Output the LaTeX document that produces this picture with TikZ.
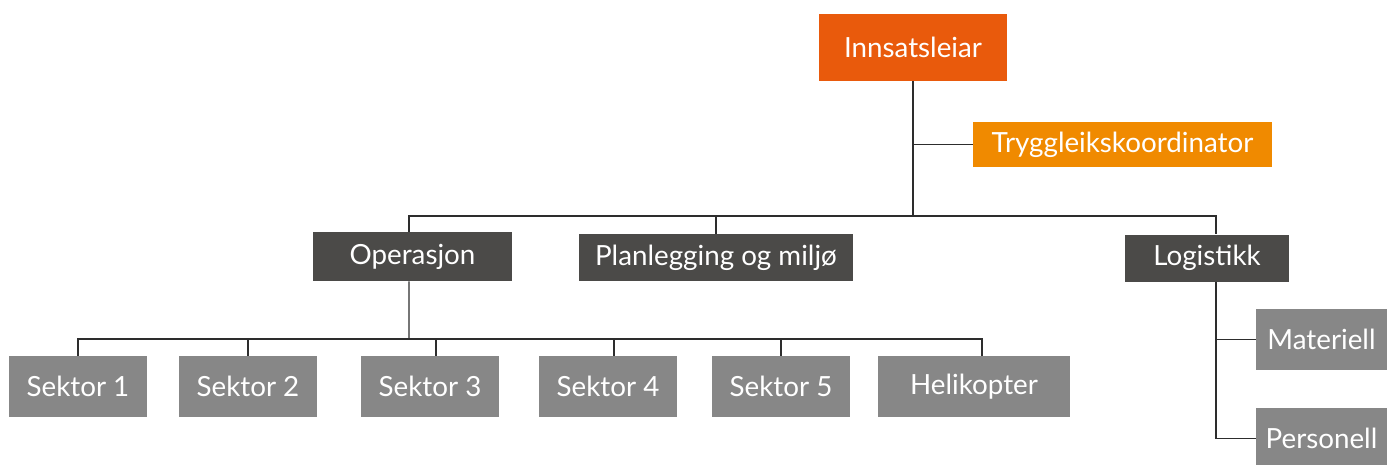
\documentclass[tikz,border=0pt]{standalone}
\usepackage{fontspec}
\setmainfont{Lato}
\definecolor{leadorange}{RGB}{233, 90, 12}
\definecolor{safeorange}{RGB}{240, 138, 0}
\definecolor{unitgrey}{RGB}{75, 74, 72}
\definecolor{subgrey}{RGB}{135, 135, 135}
\definecolor{linkgrey}{RGB}{45, 45, 45}
\usetikzlibrary{positioning, calc}

\tikzset{
  box/.style={inner sep=0pt, text=white, font=\fontsize{15.8}{18}\selectfont},
  leadbox/.style={box, fill=leadorange, minimum width=3.76cm, minimum height=1.34cm},
  safebox/.style={box, fill=safeorange, minimum width=5.98cm, minimum height=0.9cm},
  unitbox/.style={box, fill=unitgrey, minimum height=0.94cm},
  subbox/.style={box, fill=subgrey, minimum width=2.76cm, minimum height=1.22cm},
  link/.style={draw=linkgrey, line width=0.6pt}
}

\begin{document}
\begin{tikzpicture}[x=0.02cm, y=-0.02cm]
  \useasboundingbox (0,0) rectangle (1387,464);

  % top level
  \node[leadbox] (ins) at (913,47.5) {Innsatsleiar};
  \node[safebox] (tryg) at (1122.5,144.5) {Tryggleikskoordinator};

  % units
  \node[unitbox, minimum width=3.98cm, minimum height=0.98cm] (ops) at (412.5,256.5) {Operasjon};
  \node[unitbox, minimum width=5.48cm] (plan) at (716,257.5) {Planlegging og miljø};
  \node[unitbox, minimum width=3.28cm] (log) at (1207,258) {Logistikk};

  % sectors
  \node[subbox] (s1) at (78,386.5) {Sektor 1};
  \node[subbox] (s2) at (248,386.5) {Sektor 2};
  \node[subbox] (s3) at (430,386.5) {Sektor 3};
  \node[subbox] (s4) at (608,386.5) {Sektor 4};
  \node[subbox] (s5) at (781,386.5) {Sektor 5};
  \node[subbox, minimum width=3.84cm] (hel) at (974,386.5) {Helikopter};

  % logistics
  \node[subbox, minimum width=2.62cm] (mat) at (1321.5,339.5) {Materiell};
  \node[subbox, minimum width=2.62cm] (pers) at (1321.5,438.5) {Personell};

  \coordinate (top) at (913,216);
  \coordinate (midbus) at (409,339);

  % connectors
  \draw[link] (ins.south) -- (top);
  \draw[link] (ins.south) |- (tryg.west);
  \draw[link] ([xshift=-0.07cm]ops.north) |- (top) -| ([xshift=0.18cm]log.north);
  \draw[link] (plan.north) -- (plan.north |- top);
  \draw[link] ([xshift=-0.07cm]ops.south) -- (midbus);
  \draw[link] (s1.north) |- (midbus) -| ([xshift=0.16cm]hel.north);
  \foreach \s/\dx in {s2/0, s3/0.12, s4/0.12, s5/0}
    \draw[link] ([xshift=\dx cm]\s.north) -- ++(0,-17);
  \draw[link] ([xshift=0.18cm]log.south) |- (mat.west);
  \draw[link] ([xshift=0.18cm]log.south) |- (pers.west);
\end{tikzpicture}
\end{document}
